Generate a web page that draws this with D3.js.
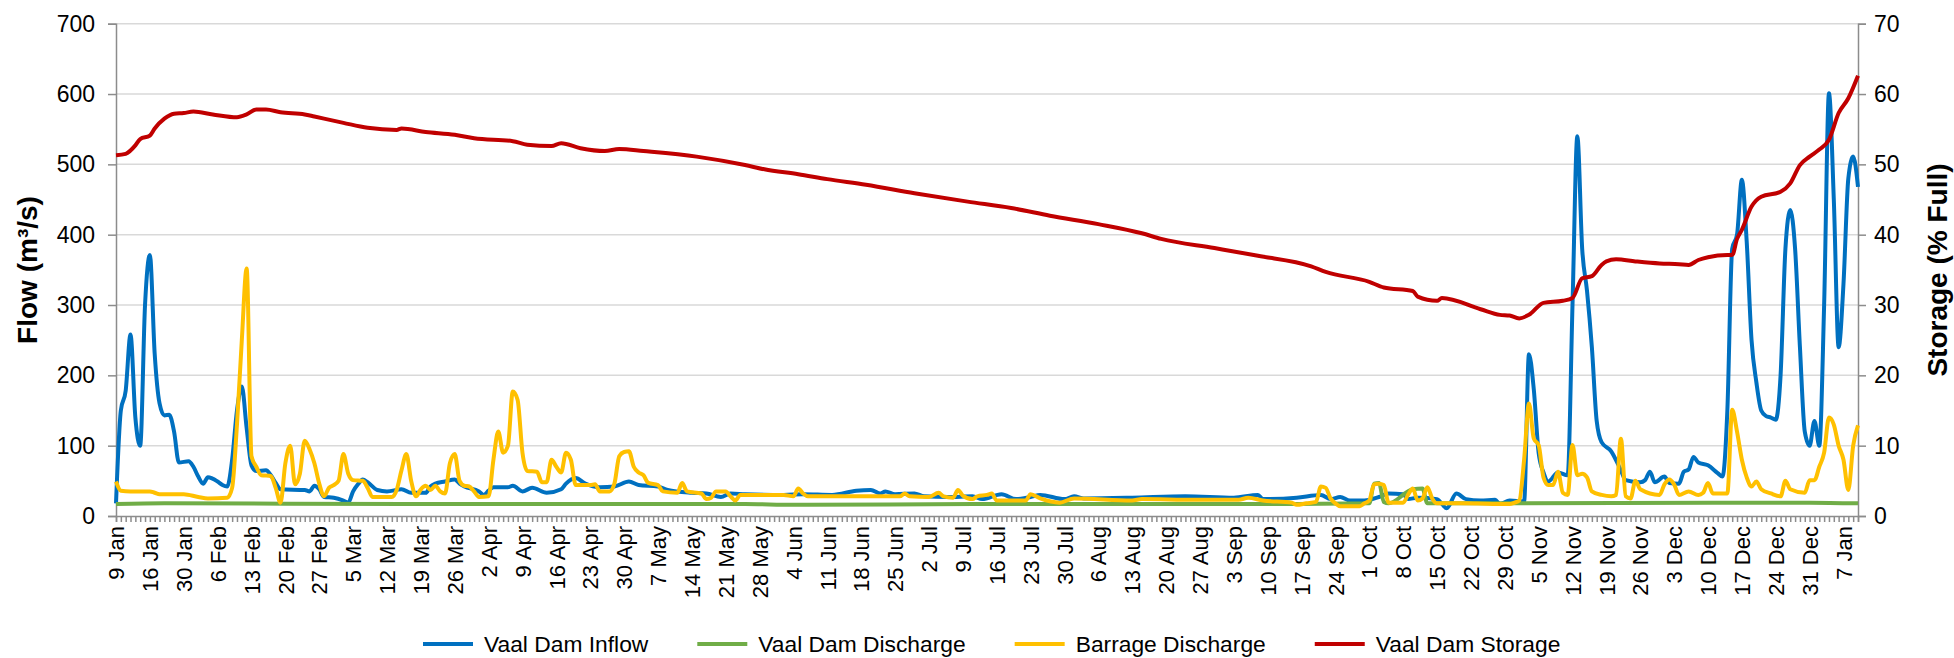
<!DOCTYPE html>
<html>
<head>
<meta charset="utf-8">
<script src="https://cdn.jsdelivr.net/npm/d3@7/dist/d3.min.js"></script>
<style>
  body { margin: 0; background: #fff; }
  svg text { font-family: "Liberation Sans", Arial, sans-serif; fill: #000; }
</style>
</head>
<body>
<div id="chart"></div>
<script>
// category labels, one every 7 days
const tickLabels = ["9 Jan", "16 Jan", "30 Jan", "6 Feb", "13 Feb", "20 Feb", "27 Feb", "5 Mar", "12 Mar", "19 Mar",
  "26 Mar", "2 Apr", "9 Apr", "16 Apr", "23 Apr", "30 Apr", "7 May", "14 May", "21 May", "28 May", "4 Jun", "11 Jun",
  "18 Jun", "25 Jun", "2 Jul", "9 Jul", "16 Jul", "23 Jul", "30 Jul", "6 Aug", "13 Aug", "20 Aug", "27 Aug", "3 Sep",
  "10 Sep", "17 Sep", "24 Sep", "1 Oct", "8 Oct", "15 Oct", "22 Oct", "29 Oct", "5 Nov", "12 Nov", "19 Nov", "26 Nov",
  "3 Dec", "10 Dec", "17 Dec", "24 Dec", "31 Dec", "7 Jan"]
const dayCount = 361
const flowTicks = [0, 100, 200, 300, 400, 500, 600, 700]
const storageTicks = [0, 10, 20, 30, 40, 50, 60, 70]

// [day index, m3/s]
const inflow = [[0,18],[1,150],[2,178],[3,258],[4,140],[5,100],[6,300],[7,371],[8,230],[9,160],[10,143],[11,144],[12,120],
  [13,76],[15,78],[16,70],[17,56],[18,46],[19,55],[21,49],[22,44],[23,42],[24,80],[25,150],[26,184],[27,125],[28,72],
  [29,64],[31,65],[32,58],[33,47],[34,38],[39,37],[40,35],[41,43],[42,38],[43,27],[45,26],[47,22],[48,19],[49,35],
  [50,45],[51,52],[52,48],[54,37],[56,35],[59,38],[61,33],[64,33],[65,42],[66,46],[68,49],[70,52],[71,46],[72,42],
  [75,35],[76,30],[77,36],[78,41],[81,41],[82,43],[84,35],[86,40],[89,33],[92,38],[93,46],[95,54],[97,46],[100,41],
  [103,42],[106,49],[108,44],[112,42],[114,37],[119,33],[122,32],[125,27],[127,32],[130,31],[138,30],[142,31],
  [148,30],[153,36],[156,37],[158,32],[159,35],[161,31],[165,32],[167,28],[172,27],[177,28],[179,24],[183,31],
  [186,24],[189,27],[191,30],[196,24],[198,28],[200,25],[210,26],[221,28],[231,26],[236,30],[237,24],[244,26],
  [249,30],[251,24],[253,27],[255,22],[258,22],[261,27],[263,32],[266,31],[267,24],[269,26],[273,24],[275,11],
  [277,32],[279,24],[282,22],[285,23],[286,17],[288,22],[291,21],[292,230],[293,180],[294,90],[295,62],[296,49],
  [298,62],[300,58],[301,300],[302,540],[303,380],[304,320],[305,240],[306,135],[307,105],[309,92],[311,65],
  [312,51],[315,48],[316,51],[317,63],[318,48],[320,56],[321,47],[323,46],[324,63],[325,66],[326,84],[327,76],
  [329,72],[331,61],[332,56],[333,150],[334,380],[335,400],[336,478],[337,390],[338,250],[339,190],[340,150],
  [341,142],[342,140],[343,137],[344,200],[345,380],[346,435],[347,380],[348,240],[349,120],[350,100],[351,135],
  [352,100],[353,300],[354,601],[355,450],[356,240],[357,330],[358,480],[359,511],[360,468]]

const discharge = [[0,17],[10,18],[60,17],[130,17],[140,16],[180,17],[240,17],[259,18],[260,46],[261,47],[262,20],
  [263,18],[268,38],[270,39],[271,18],[290,18],[330,19],[350,19],[360,18]]

const barrage = [[0,49],[1,36],[3,35],[7,35],[8,33],[9,31],[14,31],[17,27],[19,25],[23,26],[24,40],[25,130],[26,250],
  [27,352],[28,85],[29,70],[30,58],[32,57],[33,40],[34,19],[35,75],[36,100],[37,45],[38,60],[39,107],[40,95],[41,75],
  [42,46],[43,28],[44,40],[45,44],[46,50],[47,88],[48,60],[49,51],[51,50],[52,40],[53,27],[57,27],[58,37],[59,65],
  [60,88],[61,50],[62,28],[63,38],[64,43],[65,37],[66,43],[67,35],[68,32],[69,75],[70,88],[71,50],[72,43],[73,42],
  [74,35],[75,27],[77,28],[78,80],[79,120],[80,90],[81,100],[82,177],[83,165],[84,90],[85,64],[87,63],[88,48],
  [89,48],[90,80],[91,70],[92,62],[93,90],[94,80],[95,44],[98,44],[99,45],[100,35],[102,35],[103,46],[104,85],
  [105,91],[106,92],[107,70],[108,62],[109,58],[110,47],[112,44],[113,35],[116,33],[117,47],[118,35],[121,32],
  [122,24],[123,26],[124,35],[126,35],[127,28],[128,22],[129,30],[138,30],[140,28],[141,39],[142,32],[143,28],
  [162,28],[163,32],[164,28],[168,27],[170,33],[171,28],[173,26],[174,37],[175,29],[177,24],[178,28],[180,30],
  [181,32],[182,22],[188,22],[189,31],[191,25],[195,19],[198,25],[210,22],[212,24],[223,23],[232,23],[234,26],
  [237,22],[243,19],[244,16],[246,18],[248,20],[249,42],[250,40],[251,25],[252,18],[253,14],[257,14],[258,18],
  [259,22],[260,45],[261,46],[262,44],[263,19],[266,19],[267,30],[268,39],[269,22],[270,25],[271,41],[272,25],
  [273,18],[278,18],[288,17],[289,19],[290,22],[291,80],[292,160],[293,110],[294,101],[295,55],[296,44],[297,44],
  [298,63],[299,33],[300,30],[301,101],[302,58],[303,60],[304,55],[305,35],[307,30],[309,28],[310,30],[311,110],
  [312,28],[313,25],[314,50],[315,38],[319,30],[320,45],[321,52],[322,45],[323,30],[325,35],[327,30],[328,33],
  [329,47],[330,32],[333,32],[334,151],[335,120],[336,80],[337,55],[338,42],[339,49],[340,38],[342,32],[344,28],
  [345,50],[346,38],[349,33],[350,51],[351,51],[352,70],[353,90],[354,140],[355,130],[356,100],[357,80],[358,37],
  [359,100],[360,129]]

// [day index, % full]
const storage = [[0,51.3],[2,51.5],[4,52.7],[5,53.6],[7,54.1],[8,55.1],[10,56.5],[12,57.2],[14,57.3],[16,57.5],
  [20,57.1],[25,56.7],[27,57.1],[29,57.8],[31,57.8],[34,57.4],[39,57.1],[41,56.8],[47,55.9],[52,55.2],[58,54.9],
  [59,55.1],[64,54.6],[70,54.2],[74,53.7],[82,53.3],[85,52.8],[90,52.6],[92,53.0],[96,52.3],[101,51.9],[104,52.2],
  [109,51.9],[120,51.1],[130,49.9],[134,49.3],[141,48.6],[147,47.9],[155,47.1],[165,45.9],[176,44.7],[185,43.8],
  [193,42.7],[203,41.5],[212,40.2],[216,39.4],[227,38.1],[236,37.0],[247,35.5],[250,34.7],[259,33.3],[262,32.5],
  [268,32.0],[269,31.2],[273,30.6],[274,31.0],[282,29.4],[286,28.6],[288,28.5],[290,28.1],[292,28.6],[295,30.3],
  [299,30.6],[301,31.0],[303,33.8],[305,34.1],[307,35.7],[308,36.2],[310,36.5],[314,36.2],[319,35.9],[323,35.8],
  [325,35.7],[327,36.4],[329,36.8],[333,37.1],[334,37.1],[335,39.4],[336,40.7],[338,44.0],[340,45.4],[344,46.1],
  [346,47.3],[348,49.9],[350,51.1],[352,52.1],[354,53.5],[356,57.3],[358,59.4],[360,62.6]]

const series = [
  { name: "Vaal Dam Inflow", data: inflow, color: "#0070c0", axis: "flow" },
  { name: "Vaal Dam Discharge", data: discharge, color: "#70ad47", axis: "flow" },
  { name: "Barrage Discharge", data: barrage, color: "#ffc000", axis: "flow" },
  { name: "Vaal Dam Storage", data: storage, color: "#c00000", axis: "storage" }
]

// 布局
const config = {
  width: 1954,
  height: 658,
  left: 116,
  right: 1858,
  top: 23.7,
  bottom: 516,
  axisColor: "#8c8c8c",
  gridColor: "#d9d9d9"
}

const svg = d3.select("#chart").append("svg")
  .attr("width", config.width)
  .attr("height", config.height)

const x = d3.scaleLinear().domain([0, dayCount - 1]).range([config.left, config.right])
const yFlow = d3.scaleLinear().domain([0, 700]).range([config.bottom, config.top])
const yStorage = d3.scaleLinear().domain([0, 70]).range([config.bottom, config.top])

// gridlines
svg.append("g")
  .selectAll("line")
  .data(flowTicks.filter(d => d > 0))
  .enter()
  .append("line")
  .attr("x1", config.left)
  .attr("x2", config.right)
  .attr("y1", d => yFlow(d))
  .attr("y2", d => yFlow(d))
  .attr("stroke", config.gridColor)
  .attr("stroke-width", 1.5)

// left axis
const gLeft = svg.append("g")
  .attr("transform", `translate(${config.left},0)`)
  .call(d3.axisLeft(yFlow).tickValues(flowTicks).tickSize(8).tickPadding(13))
gLeft.selectAll("text").style("font-size", "23px")

// right axis
const gRight = svg.append("g")
  .attr("transform", `translate(${config.right},0)`)
  .call(d3.axisRight(yStorage).tickValues(storageTicks).tickSize(8).tickPadding(8))
gRight.selectAll("text").style("font-size", "23px")

// bottom axis, a tick per day, a label per week
const gBottom = svg.append("g")
  .attr("transform", `translate(0,${config.bottom})`)
  .call(d3.axisBottom(x)
    .tickValues(d3.range(0, dayCount))
    .tickSize(6)
    .tickFormat(d => (d % 7 === 0 && tickLabels[d / 7]) ? tickLabels[d / 7] : ""))
// 去掉空的刻度文字
gBottom.selectAll("text").filter(function () { return this.textContent === "" }).remove()
gBottom.selectAll("text")
  .style("font-size", "22px")
  .attr("text-anchor", "end")
  .attr("transform", "rotate(-90)")
  .attr("x", -10)
  .attr("y", 0)
  .attr("dy", "0.35em")

svg.selectAll(".domain, .tick line")
  .attr("stroke", config.axisColor)
  .attr("stroke-width", 1.5)

// axis titles
svg.append("text")
  .attr("transform", `translate(27,270) rotate(-90)`)
  .attr("text-anchor", "middle")
  .attr("dy", "0.35em")
  .style("font-size", "28px")
  .style("font-weight", "bold")
  .text("Flow (m³/s)")

svg.append("text")
  .attr("transform", `translate(1937,270) rotate(-90)`)
  .attr("text-anchor", "middle")
  .attr("dy", "0.35em")
  .style("font-size", "28px")
  .style("font-weight", "bold")
  .text("Storage (% Full)")

// lines
const gLines = svg.append("g")
series.forEach(s => {
  const y = s.axis === "flow" ? yFlow : yStorage
  const line = d3.line()
    .x(d => x(d[0]))
    .y(d => y(d[1]))
    .curve(d3.curveMonotoneX)
  gLines.append("path")
    .datum(s.data)
    .attr("fill", "none")
    .attr("stroke", s.color)
    .attr("stroke-width", 4)
    .attr("stroke-linejoin", "round")
    .attr("d", line)
})

// legend: short swatch, text, gap
const legend = svg.append("g").attr("transform", "translate(423,644)")
let lx = 0
series.forEach(s => {
  const item = legend.append("g").attr("transform", `translate(${lx},0)`)
  item.append("line")
    .attr("x1", 0).attr("x2", 50)
    .attr("stroke", s.color)
    .attr("stroke-width", 4)
  const t = item.append("text")
    .attr("x", 61)
    .attr("dy", "0.35em")
    .style("font-size", "22.8px")
    .text(s.name)
  lx += 61 + t.node().getComputedTextLength() + 49
})
</script>
</body>
</html>
